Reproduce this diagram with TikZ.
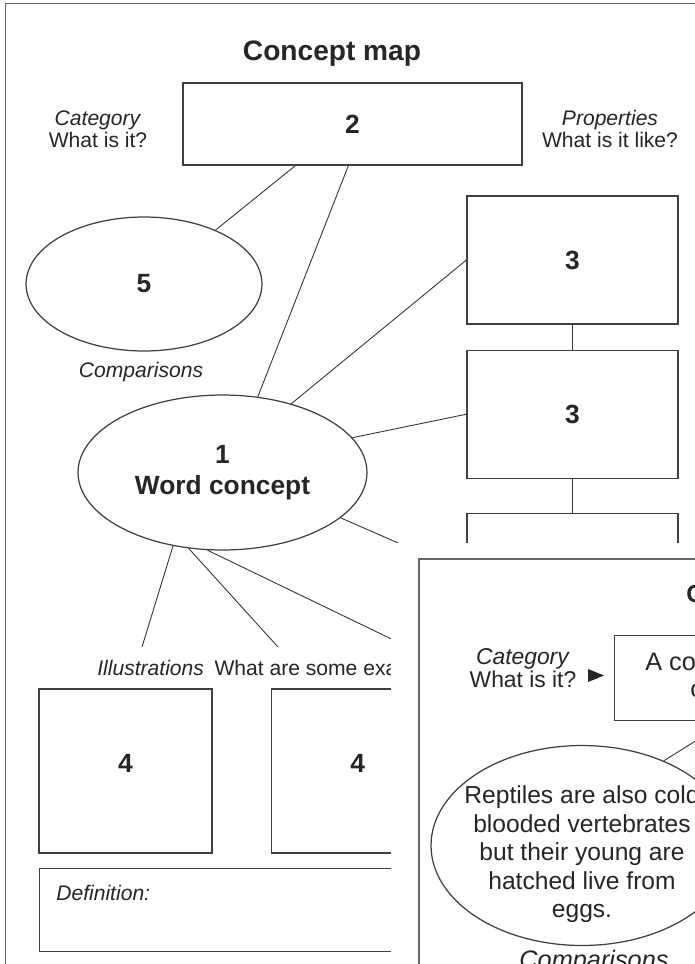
\documentclass[tikz,border=0pt]{standalone}
\usepackage{fontspec}
\setmainfont{Liberation Sans}
\usetikzlibrary{shapes.geometric,positioning}

\begin{document}
\begin{tikzpicture}[
  x=0.02cm, y=-0.02cm,
  ink/.style={draw=black!75, line width=0.7pt},
  box/.style={ink, rectangle, inner sep=0pt, text=black!85,
              font=\fontsize{15}{17.6}\selectfont\bfseries},
  topbox/.style={box, minimum width=6.78cm, minimum height=1.64cm},
  propbox/.style={box, minimum width=4.22cm, minimum height=2.56cm},
  picbox/.style={box, minimum width=3.46cm, minimum height=3.28cm, text depth=0.3cm},
  bubble/.style={ink, ellipse, inner sep=0pt, align=center, text=black!85,
                 font=\fontsize{15}{17.6}\selectfont\bfseries},
  cue/.style={align=center, inner sep=0pt, text=black!85,
              font=\fontsize{12}{12.5}\selectfont},
  bigcue/.style={cue, font=\fontsize{14.4}{16.2}\selectfont},
  link/.style={draw=black!80, line width=0.5pt},
  frame/.style={draw=black!60, line width=1pt}
]
\useasboundingbox (0,0) rectangle (695,964);
\clip (0,0) rectangle (695,964);
\fill[white] (0,0) rectangle (695,964);
\draw[frame] (5.5,3.5) rectangle (760,1000);

% main sheet
\node[cue, anchor=base, font=\fontsize{16}{18}\selectfont\bfseries] (title) at (332,60) {Concept map};
\node[cue] (cat) at (98,129) {\textit{Category}\\What is it?};
\node[topbox] (box2) at (352.5,124) {2};
\node[cue] (props) at (610,129) {\textit{Properties}\\What is it like?};

\node[bubble, minimum width=4.72cm, minimum height=2.68cm] (ell5) at (144,284) {5};
\node[cue, font=\fontsize{12}{12.5}\selectfont\itshape] (comp) at (141,372) {Comparisons};
\node[bubble, minimum width=5.78cm, minimum height=3.1cm] (ell1) at (222.5,472.5) {1\\Word concept};

\node[propbox] (prop1) at (572.5,260) {3};
\node[propbox, below=0.5cm of prop1] (prop2) {3};
\node[propbox, below=0.68cm of prop2] (prop3) {};

\node[cue, anchor=base west] (illus) at (97,675) {\textit{Illustrations}\enspace What are some exa};
\node[picbox] (pic1) at (125.5,771) {4};
\node[picbox, right=1.16cm of pic1] (pic2) {4};
\node[ink, anchor=north west, minimum width=12.42cm, minimum height=1.66cm] (def) at (39,868) {};
\node[cue, anchor=base west, font=\fontsize{12}{12.5}\selectfont\itshape] (deftext) at (56,900) {Definition:};

\coordinate (ill1) at (142,647);
\coordinate (ill2) at (278,647);
\coordinate (ill3) at (408,647);
\coordinate (side) at (460,570);

\draw[link] ([xshift=2.26cm]box2.south west) -- (ell5.37);
\draw[link] ([xshift=3.32cm]box2.south west) -- (ell1.65);
\draw[link] (ell1.45) -- (prop1.west);
\draw[link] (ell1.15) -- (prop2.west);
\draw[link] (ell1.-21) -- (side);
\draw[link] (prop1) -- (prop2);
\draw[link] (prop2) -- (prop3);
\draw[link] (ell1.236) -- (ill1);
\draw[link] (ell1.246) -- (ill2);
\draw[link] (ell1.259) -- (ill3);

% second sheet on top
\fill[white] (391,543) rectangle (760,1000);
\draw[frame] (419,559) rectangle (800,1100);

\node[cue, anchor=base west, font=\fontsize{14}{16}\selectfont\bfseries] (ptitle) at (686,602) {C};
\node[cue, font=\fontsize{13}{13.5}\selectfont] (pcat) at (523,668) {\textit{Category}\\What is it?};
\fill[black!85] (588,669) -- (604,675.5) -- (588,682) -- cycle;
\node[ink, anchor=north west, minimum width=5.2cm, minimum height=1.7cm] (pbox) at (614,635) {};
\node[bigcue, anchor=base west] (pline1) at (645,670) {A co};
\node[bigcue, anchor=base west] (pline2) at (690,697) {c};

\node[ink, ellipse, inner sep=0pt, minimum width=6.04cm, minimum height=4cm, text=black!85,
      font=\fontsize{14}{16.2}\selectfont] (pell) at (582,845.5)
  {\smash{\makebox[0pt]{\raisebox{-9pt}{\begin{tabular}{@{}c@{}}Reptiles are also cold\\blooded vertebrates\\but their young are\\hatched live from\\eggs.\end{tabular}}}}};
\coordinate (pfoot) at (729,720);
\draw[link] (pell.46) -- (pfoot);
\node[bigcue, anchor=base, font=\fontsize{14.4}{17}\selectfont\itshape] (pcomp) at (594,968) {Comparisons};
\end{tikzpicture}
\end{document}
